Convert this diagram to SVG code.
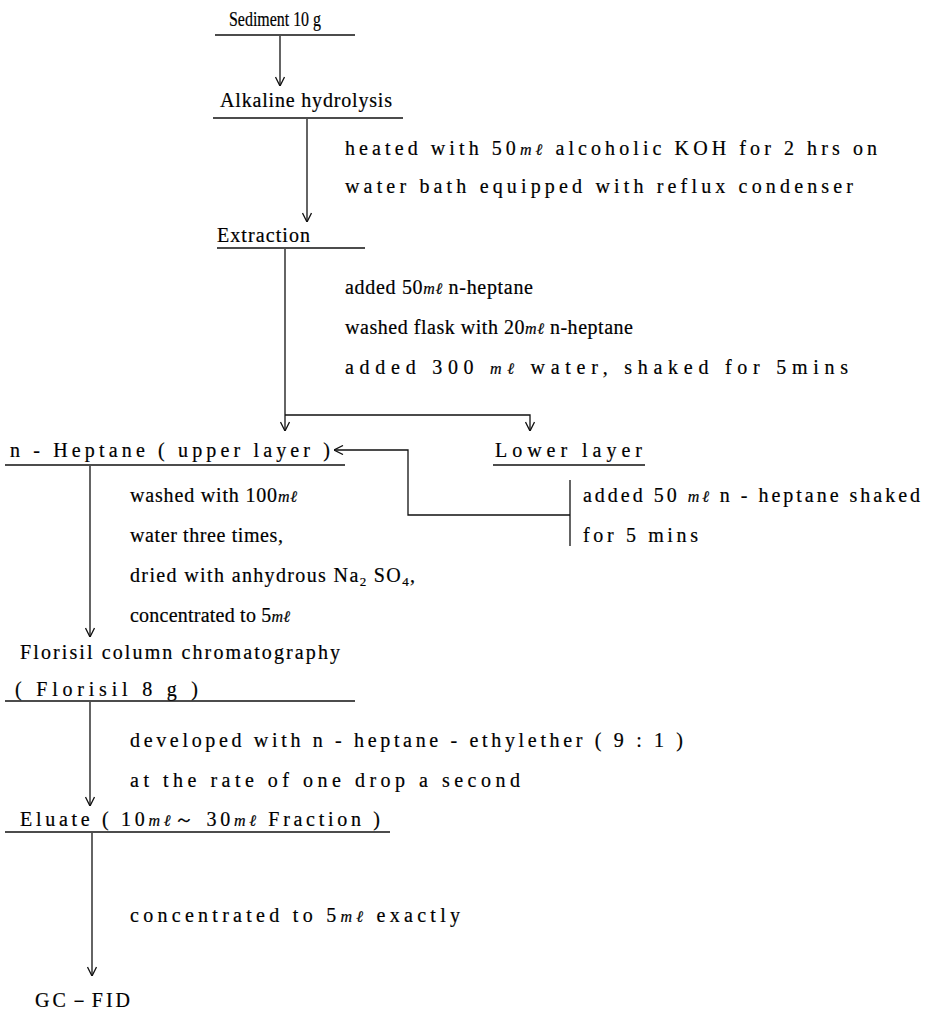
<svg xmlns="http://www.w3.org/2000/svg" width="927" height="1015" viewBox="0 0 927 1015">
<style>
text{font-family:"Liberation Serif","Times New Roman",serif;font-size:20px;fill:#000;stroke:#000;stroke-width:0.2}
.ml{font-style:italic;font-size:16px}
.sub{font-size:13px}
.ul{stroke:#111;stroke-width:1.6}
.c{stroke:#111;stroke-width:1.3;fill:none}
</style>
<defs>
<marker id="ah" viewBox="0 0 10 10" refX="10" refY="5" markerUnits="userSpaceOnUse" markerWidth="10" markerHeight="10" orient="auto">
<path d="M1,0.5 L10,5 L1,9.5" fill="none" stroke="#111" stroke-width="1.3"/>
</marker>
</defs>
<rect width="927" height="1015" fill="#fff"/>

<g id="sediment">
<text x="229" y="26" textLength="92" lengthAdjust="spacingAndGlyphs">Sediment 10 g</text>
<line class="ul" x1="215" y1="35" x2="355" y2="35"/>
</g>
<g id="hydrolysis">
<text x="220" y="107" textLength="172" lengthAdjust="spacing">Alkaline hydrolysis</text>
<line class="ul" x1="213" y1="118" x2="403" y2="118"/>
</g>
<g id="hydrolysis-note">
<text x="345" y="155" textLength="532" lengthAdjust="spacing">heated with 50<tspan class="ml">mℓ</tspan> alcoholic KOH for 2 hrs on</text>
<text x="345" y="193" textLength="508" lengthAdjust="spacing">water bath equipped with reflux condenser</text>
</g>
<g id="extraction">
<text x="217" y="242" textLength="93" lengthAdjust="spacing">Extraction</text>
<line class="ul" x1="217" y1="248" x2="365" y2="248"/>
</g>
<g id="extraction-note">
<text x="345" y="294" textLength="188" lengthAdjust="spacing">added 50<tspan class="ml">mℓ</tspan> n-heptane</text>
<text x="345" y="334" textLength="288" lengthAdjust="spacing">washed flask with 20<tspan class="ml">mℓ</tspan> n-heptane</text>
<text x="345" y="374" textLength="503" lengthAdjust="spacing">added 300 <tspan class="ml">mℓ</tspan> water, shaked for 5mins</text>
</g>
<g id="heptane">
<text x="10" y="457" textLength="320" lengthAdjust="spacing">n - Heptane ( upper layer )</text>
<line class="ul" x1="5" y1="465" x2="345" y2="465"/>
</g>
<g id="lower">
<text x="495" y="457" textLength="147" lengthAdjust="spacing">Lower layer</text>
<line class="ul" x1="493" y1="465" x2="645" y2="465"/>
</g>
<g id="lower-note">
<text x="583" y="502" textLength="337" lengthAdjust="spacing">added 50 <tspan class="ml">mℓ</tspan> n - heptane shaked</text>
<text x="583" y="542" textLength="115" lengthAdjust="spacing">for 5 mins</text>
</g>
<g id="heptane-note">
<text x="130" y="502" textLength="167" lengthAdjust="spacing">washed with 100<tspan class="ml">mℓ</tspan></text>
<text x="130" y="542" textLength="153" lengthAdjust="spacing">water three times,</text>
<text x="130" y="582" textLength="285" lengthAdjust="spacing">dried with anhydrous Na<tspan class="sub" dy="4">2</tspan><tspan dy="-4"> SO</tspan><tspan class="sub" dy="4">4</tspan><tspan dy="-4">,</tspan></text>
<text x="130" y="622" textLength="160" lengthAdjust="spacing">concentrated to 5<tspan class="ml">mℓ</tspan></text>
</g>
<g id="florisil">
<text x="20" y="659" textLength="320" lengthAdjust="spacing">Florisil column chromatography</text>
<text x="15" y="696" textLength="183" lengthAdjust="spacing">( Florisil 8 g )</text>
<line class="ul" x1="5" y1="701" x2="355" y2="701"/>
</g>
<g id="florisil-note">
<text x="130" y="747" textLength="553" lengthAdjust="spacing">developed with n - heptane - ethylether ( 9 : 1 )</text>
<text x="130" y="787" textLength="390" lengthAdjust="spacing">at the rate of one drop a second</text>
</g>
<g id="eluate">
<text x="20" y="826" textLength="360" lengthAdjust="spacing">Eluate ( 10<tspan class="ml">mℓ</tspan>～ 30<tspan class="ml">mℓ</tspan> Fraction )</text>
<line class="ul" x1="5" y1="832" x2="390" y2="832"/>
</g>
<g id="eluate-note">
<text x="130" y="922" textLength="330" lengthAdjust="spacing">concentrated to 5<tspan class="ml">mℓ</tspan> exactly</text>
</g>
<g id="gcfid">
<text x="35" y="1007" textLength="95" lengthAdjust="spacing">GC－FID</text>
</g>

<g id="connectors">
<line class="c" x1="280" y1="36" x2="280" y2="86" marker-end="url(#ah)"/>
<line class="c" x1="307" y1="119" x2="307" y2="222" marker-end="url(#ah)"/>
<line class="c" x1="285" y1="249" x2="285" y2="431" marker-end="url(#ah)"/>
<polyline class="c" points="285,415 530,415 530,431" marker-end="url(#ah)"/>
<polyline class="c" points="570,515 408,515 408,450 334,450" marker-end="url(#ah)"/>
<line class="c" x1="570" y1="480" x2="570" y2="546"/>
<line class="c" x1="90" y1="466" x2="90" y2="637" marker-end="url(#ah)"/>
<line class="c" x1="90" y1="702" x2="90" y2="806" marker-end="url(#ah)"/>
<line class="c" x1="92" y1="833" x2="92" y2="976" marker-end="url(#ah)"/>
</g>
</svg>
